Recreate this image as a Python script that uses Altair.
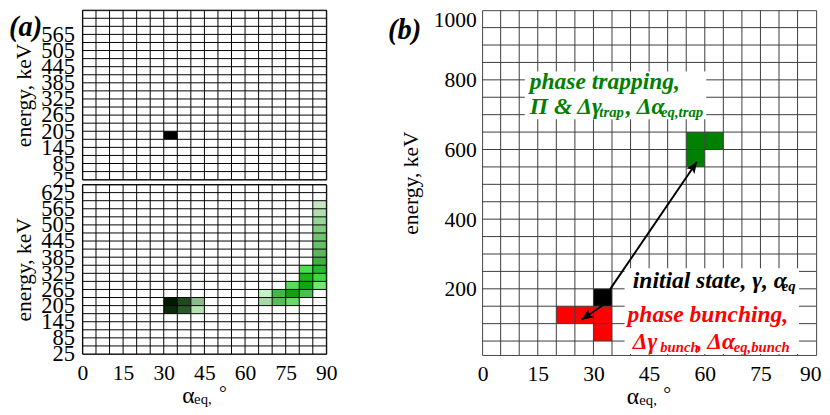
import math
import altair as alt
import pandas as pd

FONT = "Liberation Serif"

# ---------------- panel (a) data ----------------
a_alpha_edges = list(range(0, 95, 5))
a_energy_edges = list(range(25, 656, 30))
a_x_ticks = [0, 15, 30, 45, 60, 75, 90]
a_y_ticks_top = [25, 85, 145, 205, 265, 325, 385, 445, 505, 565]
a_y_ticks_bot = [25, 85, 145, 205, 265, 325, 385, 445, 505, 565, 625]

# initial state (upper heatmap)
a_top_alpha = [30]
a_top_energy = [175]

# distribution after interaction (lower heatmap)
a_bot_alpha = [30, 35, 40, 30, 35, 40, 65, 70, 75, 65, 70, 75, 80, 75, 80, 85,
               80, 85, 80, 85, 85, 85, 85, 85, 85, 85, 85, 85]
a_bot_energy = [175, 175, 175, 205, 205, 205, 205, 205, 205, 235, 235, 235, 235,
                265, 265, 265, 295, 295, 325, 325, 355, 385, 415, 445, 475, 505, 535, 565]
a_bot_density = [8.9, 6.6, 1.2, 9.8, 7.4, 2.0, 1.5, 3.4, 2.9, 0.9, 3.8, 5.3, 3.6,
                 3.0, 5.5, 2.6, 4.9, 3.9, 3.3, 4.4, 4.0, 3.5, 3.1, 2.8, 2.4, 1.9, 1.4, 1.0]
a_bot_palette = ["#0a2a0a", "#2a5a2a", "#b4e4b4", "#001a00", "#1e4a1e", "#8cbc8c",
                 "#a8d8a8", "#5cb85c", "#70d470", "#c0f4c0", "#44b844", "#14a014",
                 "#4cc04c", "#5ed85e", "#12a612", "#6fe86f", "#1ab51a", "#40d840",
                 "#4ddd4d", "#2cb82c", "#40b040", "#5ab85a", "#68bf68", "#70c470",
                 "#80cc80", "#98d598", "#b0deb0", "#c6e6c6"]

# ---------------- panel (b) data ----------------
b_alpha_edges = list(range(5, 90, 5))
b_energy_edges = list(range(50, 1000, 50))
b_x_ticks = [0, 15, 30, 45, 60, 75, 90]
b_y_ticks = [200, 400, 600, 800, 1000]
b_alpha = [30, 20, 25, 30, 30, 55, 60, 55]
b_energy = [150, 100, 100, 100, 50, 600, 600, 550]
b_kind = ["initial", "bunching", "bunching", "bunching", "bunching",
          "trapping", "trapping", "trapping"]
b_kinds = ["initial", "bunching", "trapping"]
b_kind_colors = ["#000000", "#ff0000", "#008000"]

arr_a0 = [34.5, 33.5]
arr_e0 = [199, 160]
arr_a1 = [57.9, 26.8]
arr_e1 = [565, 111]

box_a0 = [11.5, 38.4]
box_a1 = [60.4, 85.4]
box_e0 = [687, 13]
box_e1 = [824, 259]

ann_text = ["phase trapping,", "Π & Δγ", "trap", ", Δα", "eq,trap",
            "initial state, γ, α", "eq",
            "phase bunching,", "Δγ", "bunch", ", Δα", "eq,bunch"]
ann_alpha = [12.85, 12.85, 12.85, 12.85, 12.85, 40.6, 40.6, 39.2, 40.6, 40.6, 40.6, 40.6]
ann_energy = [773, 701, 701, 701, 701, 203, 203, 105, 27, 27, 27, 27]
ann_dx = [0, 0, 71, 98, 134, 0, 152, 0, 0, 28, 65, 103]
ann_sub = [False, False, True, False, True, False, True, False, False, True, False, True]
ann_color = ["#008000"] * 5 + ["#000000"] * 2 + ["#ff0000"] * 5

W_A, H_A = 249, 173
W_B, H_B = 341, 352


def yaxis(values, ext, tpad, lpad, flush, size):
    return alt.Axis(values=values, title="energy, keV", format="d", labelFont=FONT,
                    labelFontSize=size, labelColor="black", labelPadding=lpad,
                    labelOverlap=False, labelFlush=flush, ticks=False, tickSize=0,
                    domain=False, grid=False, titleFont=FONT, titleFontSize=22,
                    titleFontWeight="normal", titleColor="black", titlePadding=tpad,
                    minExtent=ext, maxExtent=ext)


def xaxis(values, flush):
    kw = dict(values=values, title=None, format="d", labelFont=FONT, labelFontSize=22,
              labelColor="black", labelPadding=9, labelOverlap=False, labelFlush=flush,
              ticks=False, tickSize=0, domain=False, grid=False)
    if flush:
        kw["labelFlushOffset"] = 5
    return alt.Axis(**kw)


def ptext(text, x, y, size, style="normal", weight="normal", align="left", color="black"):
    return alt.Chart(pd.DataFrame({"t": [text]})).mark_text(
        font=FONT, fontSize=size, fontStyle=style, fontWeight=weight, align=align,
        baseline="alphabetic", color=color
    ).encode(text="t:N", x=alt.value(x), y=alt.value(y))


# ---------------- panel (a) ----------------
xa_scale = alt.Scale(domain=[0, 90], nice=False, zero=False)
ya_scale = alt.Scale(domain=[25, 655], nice=False, zero=False)

ax_top = yaxis(a_y_ticks_top, 44, 4, 8, False, 23)
ax_bot = yaxis(a_y_ticks_bot, 44, 4, 8, False, 23)
ax_bx = xaxis(a_x_ticks, False)

df_top = pd.DataFrame({"alpha": a_top_alpha, "e": a_top_energy})
df_top["alpha2"] = df_top["alpha"] + 5
df_top["e2"] = df_top["e"] + 30
df_bot = pd.DataFrame({"alpha": a_bot_alpha, "e": a_bot_energy, "dens": a_bot_density})
df_bot["alpha2"] = df_bot["alpha"] + 5
df_bot["e2"] = df_bot["e"] + 30
df_av = pd.DataFrame({"alpha": a_alpha_edges})
df_ah = pd.DataFrame({"e": a_energy_edges})


def a_panel(cells, yax, xax):
    vgrid = alt.Chart(df_av).mark_rule(color="#000000", strokeWidth=1).encode(
        x=alt.X("alpha:Q", scale=xa_scale, axis=xax))
    hgrid = alt.Chart(df_ah).mark_rule(color="#000000", strokeWidth=1).encode(
        y=alt.Y("e:Q", scale=ya_scale, axis=yax))
    return [cells, vgrid, hgrid]


top_cells = alt.Chart(df_top).mark_rect(color="#000000").encode(
    x=alt.X("alpha:Q", scale=xa_scale, axis=None), x2="alpha2",
    y=alt.Y("e:Q", scale=ya_scale, axis=ax_top), y2="e2")
top = alt.layer(
    *a_panel(top_cells, ax_top, None),
    ptext("(a)", -75, 26, 29, "italic", "bold"),
).properties(width=W_A, height=H_A)

bot_cells = alt.Chart(df_bot).mark_rect().encode(
    x=alt.X("alpha:Q", scale=xa_scale, axis=ax_bx), x2="alpha2",
    y=alt.Y("e:Q", scale=ya_scale, axis=ax_bot), y2="e2",
    color=alt.Color("dens:O", scale=alt.Scale(domain=a_bot_density, range=a_bot_palette),
                    legend=None))
bot = alt.layer(
    *a_panel(bot_cells, ax_bot, ax_bx),
    ptext("α", 102, H_A + 50, 24),
    ptext("eq,", 114, H_A + 51, 15),
    ptext("°", 143.5, H_A + 46, 20, align="center"),
).properties(width=W_A, height=H_A)

panel_a = alt.vconcat(top, bot, spacing=5, bounds="flush").resolve_scale(color="independent")

# ---------------- panel (b) ----------------
xb_scale = alt.Scale(domain=[0, 90], nice=False, zero=False)
yb_scale = alt.Scale(domain=[10, 1000], nice=False, zero=False)
ax_bxx = xaxis(b_x_ticks, True)
ax_byy = yaxis(b_y_ticks, 56, 5, 6, True, 22)


def BX(f):
    return alt.X(f, scale=xb_scale, axis=ax_bxx)


def BY(f):
    return alt.Y(f, scale=yb_scale, axis=ax_byy)


df_b = pd.DataFrame({"alpha": b_alpha, "e": b_energy, "kind": b_kind})
df_b["alpha2"] = df_b["alpha"] + 5
df_b["e2"] = df_b["e"] + 50
b_cells = alt.Chart(df_b).mark_rect().encode(
    x=BX("alpha:Q"), x2="alpha2", y=BY("e:Q"), y2="e2",
    color=alt.Color("kind:N", scale=alt.Scale(domain=b_kinds, range=b_kind_colors), legend=None))
b_vgrid = alt.Chart(pd.DataFrame({"alpha": b_alpha_edges})).mark_rule(
    color="#3a3a3a", strokeWidth=1).encode(x=BX("alpha:Q"))
b_hgrid = alt.Chart(pd.DataFrame({"e": b_energy_edges})).mark_rule(
    color="#3a3a3a", strokeWidth=1).encode(y=BY("e:Q"))
b_boxes = alt.Chart(pd.DataFrame({"alpha": box_a0, "alpha2": box_a1, "e": box_e0, "e2": box_e1})
                    ).mark_rect(color="white").encode(
    x=BX("alpha:Q"), x2="alpha2", y=BY("e:Q"), y2="e2")

ann_layers = []
for t, a, e, dx, sub, col in zip(ann_text, ann_alpha, ann_energy, ann_dx, ann_sub, ann_color):
    ann_layers.append(
        alt.Chart(pd.DataFrame({"alpha": [a], "e": [e], "t": [t]})).mark_text(
            font=FONT, fontSize=15 if sub else 24, fontStyle="italic", fontWeight="bold",
            align="left", baseline="alphabetic", color=col, dx=dx, dy=3 if sub else 0
        ).encode(x=BX("alpha:Q"), y=BY("e:Q"), text="t:N"))

pxd = W_B / 90.0
pxe = H_B / 990.0
arr_ang = []
for a0, e0, a1, e1 in zip(arr_a0, arr_e0, arr_a1, arr_e1):
    dxs = (a1 - a0) * pxd
    dys = -(e1 - e0) * pxe
    arr_ang.append(math.degrees(math.atan2(dxs, -dys)) % 360)
df_arr = pd.DataFrame({"alpha": arr_a0, "e": arr_e0, "alpha2": arr_a1, "e2": arr_e1,
                       "ang": arr_ang})
b_shafts = alt.Chart(df_arr).mark_rule(color="black", strokeWidth=2).encode(
    x=BX("alpha:Q"), y=BY("e:Q"), x2="alpha2", y2="e2")
b_heads = alt.Chart(df_arr).mark_point(
    shape="M0,0L-0.42,1L0,0.78L0.42,1Z", filled=True, size=560, color="black", opacity=1
).encode(x=BX("alpha2:Q"), y=BY("e2:Q"), angle=alt.Angle("ang:Q", scale=None))

panel_b = alt.layer(
    b_cells, b_vgrid, b_hgrid, b_boxes, *ann_layers, b_shafts, b_heads,
    ptext("(b)", -96, 29, 29, "italic", "bold"),
    ptext("α", 147.7, H_B + 50, 24),
    ptext("eq,", 160.5, H_B + 51, 15),
    ptext("°", 189, H_B + 46, 20, align="center"),
).properties(width=W_B, height=H_B)

chart = alt.hconcat(panel_a, panel_b, spacing=50).resolve_scale(
    color="independent").properties(
    padding={"left": 0, "top": -4, "right": 0, "bottom": 0}).configure_view(
    stroke="#444444", strokeWidth=1)

chart.save("out.html", embed_options={"renderer": "svg", "actions": False})
